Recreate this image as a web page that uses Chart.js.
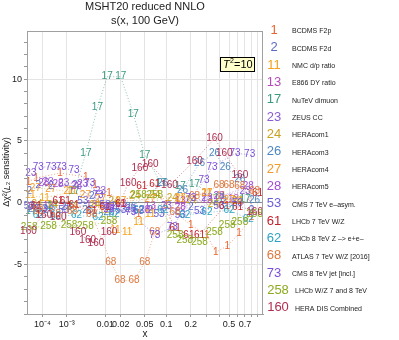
<!DOCTYPE html>
<html>
<head>
<meta charset="utf-8">
<script src="https://cdn.jsdelivr.net/npm/chart.js"></script>
<style>
  body { margin: 0; background: #fff; }
  canvas { display: block; }
</style>
</head>
<body>
<canvas id="myChart" width="399" height="340"></canvas>
<script>
// dataset ids, names and colours (legend order)
var seriesIds = ['1', '2', '11', '13', '17', '23', '24', '26', '27', '28', '53', '61', '62', '68', '73', '258', '160'];
var seriesNames = ['BCDMS F2p', 'BCDMS F2d', 'NMC d/p ratio', 'E866 DY ratio', 'NuTeV dimuon', 'ZEUS CC',
    'HERAcom1', 'HERAcom3', 'HERAcom4', 'HERAcom5', 'CMS 7 TeV e\u2013asym.', 'LHCb 7 TeV W/Z',
    'LHCb 8 TeV Z \u2013> e+e\u2013', 'ATLAS 7 TeV W/Z [2016]', 'CMS 8 TeV jet [incl.]', 'LHCb W/Z 7 and 8 TeV', 'HERA DIS Combined'];
var seriesColors = ['#e8652f', '#5a6cc6', '#f4a11e', '#b14eb8', '#3a9a80', '#8a5bd2', '#c9a21f', '#4d86c0', '#f39a2c',
    '#a24cd2', '#6a5ed6', '#c41f2b', '#2ea2c2', '#de7940', '#7a4fd8', '#8caa1f', '#b02d50'];

// x values and delta chi2 values, one pair per dataset
var x1 = [1.3e-5, 4.4e-5, 5.9e-4, 3.6e-3, 6e-3, 0.012, 0.04, 0.1, 0.2, 0.3, 0.37, 0.48, 0.62, 0.8];
var y1 = [1.7, 2.0, 2.4, 2.1, 1.4, 0.8, -0.9, -0.2, -1.8, -2.6, -4.0, -3.5, -2.5, -1.2];
var x2 = [1.5e-5, 6e-5, 2.6e-4, 1.8e-3, 5e-3, 0.015, 0.06, 0.2, 0.45, 0.8];
var y2 = [0.9, 1.4, 1.3, 1.4, 0.5, -0.3, -0.6, -0.4, 0.1, -0.6];
var x11 = [1.8e-5, 1.3e-4, 1.5e-3, 0.0095, 0.016, 0.026, 0.04, 0.06, 0.15, 0.3, 0.42, 0.6];
var y11 = [0.6, 0.4, 0.9, -0.6, -2.2, -2.4, -1.6, -0.9, 0.3, 0.8, 0.5, 0.1];
var x13 = [2.5e-5, 2e-4, 1e-3, 5e-3, 0.02, 0.06, 0.15, 0.3, 0.55];
var y13 = [-0.4, -0.3, -0.4, -0.2, -0.1, -0.3, 0.1, 0.2, 0.3];
var x17 = [2e-5, 3e-4, 1.7e-3, 3.6e-3, 6.8e-3, 0.011, 0.02, 0.033, 0.05, 0.085, 0.15, 0.22, 0.4, 0.7];
var y17 = [-0.7, -0.3, 0.9, 4.0, 7.7, 10.2, 10.2, 7.2, 3.85, 1.6, 1.3, 1.5, 0.4, 0.3];
var x23 = [2e-5, 1.9e-4, 8e-4, 3e-3, 8e-3, 0.03, 0.1, 0.3, 0.7];
var y23 = [2.4, 1.7, 1.6, 1.5, 0.9, -0.5, -0.3, 0.4, 0.9];
var x24 = [5e-5, 3e-4, 1.5e-3, 6e-3, 0.015, 0.035, 0.07, 0.12, 0.2, 0.35, 0.6];
var y24 = [-0.1, -0.2, -0.3, -0.2, 0.1, 0.5, 0.6, 0.4, 0.2, -0.1, 0.1];
var x26 = [3e-5, 2e-4, 1e-3, 4e-3, 0.012, 0.03, 0.09, 0.16, 0.25, 0.36, 0.46, 0.63, 0.85];
var y26 = [-0.5, -0.6, -0.4, -0.6, -0.8, -0.4, 1.6, 1.0, 3.2, 4.0, 2.9, 1.9, 0.2];
var x27 = [4e-5, 2.5e-4, 1.2e-3, 3.5e-3, 8e-3, 0.02, 0.06, 0.15, 0.3, 0.5];
var y27 = [1.2, 1.1, 0.9, 0.6, 0.3, 0.1, 0.3, 0.4, 0.8, 0.2];
var x28 = [1.2e-4, 5e-4, 2e-3, 0.012, 0.05, 0.15, 0.4, 0.75];
var y28 = [1.6, 1.5, 1.3, -0.5, -0.6, -0.4, 0.5, 1.3];
var x53 = [1.5e-5, 1e-4, 8e-4, 3e-3, 0.01, 0.02, 0.04, 0.08, 0.15, 0.25, 0.4, 0.6];
var y53 = [-0.3, -0.5, -0.6, 0.1, -0.2, -0.6, -0.7, -0.9, -1.0, -0.7, -0.3, 0.0];
var x61 = [4.5e-5, 5e-4, 9e-4, 1.7e-3, 5e-3, 0.01, 0.02, 0.045, 0.07, 0.13, 0.19, 0.25, 0.45, 0.6, 0.9];
var y61 = [-0.3, 0.1, 0.1, -0.2, -0.7, -0.4, -0.1, 1.3, 1.5, -2.1, -2.6, -2.6, -0.3, -0.4, 0.8];
var x62 = [6e-5, 4e-4, 2e-3, 7e-3, 0.015, 0.04, 0.09, 0.17, 0.3, 0.5, 0.75];
var y62 = [-1.0, -1.1, -1.0, -1.2, -0.9, -0.6, -0.6, -1.0, -0.8, -0.6, -1.3];
var x68 = [6e-5, 4e-4, 1.5e-3, 5e-3, 0.013, 0.0195, 0.034, 0.05, 0.07, 0.13, 0.22, 0.4, 0.5, 0.63, 0.85];
var y68 = [-0.7, -0.9, -0.7, -0.9, -4.8, -6.3, -6.3, -4.8, -2.4, -0.8, 0.5, 1.4, 1.4, 1.3, 0.9];
var x73 = [6e-5, 2.6e-4, 6.5e-4, 1.7e-3, 4.5e-3, 7e-3, 0.012, 0.03, 0.07, 0.12, 0.2, 0.28, 0.34, 0.57, 0.77];
var y73 = [2.9, 2.9, 2.85, 2.6, 1.6, 0.6, -0.4, -0.8, -2.6, -2.0, 0.4, 1.8, 2.9, 4.0, 3.9];
var x258 = [1.5e-5, 2e-4, 1.2e-3, 3.5e-3, 0.012, 0.04, 0.07, 0.13, 0.17, 0.25, 0.36, 0.48, 0.63, 0.85];
var y258 = [-2.0, -1.9, -1.8, -1.9, -1.5, 0.6, 0.6, -2.6, -3.0, -3.2, -2.4, -1.8, -1.6, -0.9];
var x160 = [1.3e-5, 1.2e-4, 5e-4, 2.2e-3, 4e-3, 6.3e-3, 0.012, 0.027, 0.042, 0.06, 0.11, 0.22, 0.36, 0.45, 0.63, 0.85];
var y160 = [-2.3, -1.0, -1.2, -2.4, -3.0, -3.3, -2.4, 1.6, 2.8, 3.1, 1.4, 3.4, 5.2, 4.0, 2.2, -0.8];

var seriesX = [x1, x2, x11, x13, x17, x23, x24, x26, x27, x28, x53, x61, x62, x68, x73, x258, x160];
var seriesY = [y1, y2, y11, y13, y17, y23, y24, y26, y27, y28, y53, y61, y62, y68, y73, y258, y160];

// axis ticks
var xTicks = [1e-4, 1e-3, 0.01, 0.02, 0.05, 0.1, 0.2, 0.3, 0.4, 0.5, 0.6, 0.7, 0.8, 0.9];
var xTickLabels = ['10\u207B\u2074', '10\u207B\u00B3', '0.01', '0.02', '0.05', '0.1', '0.2', '', '', '0.5', '', '0.7', '', ''];
var yTicks = [-9, -8, -7, -6, -5, -4, -3, -2, -1, 0, 1, 2, 3, 4, 5, 6, 7, 8, 9, 10, 11, 12, 13];

var FONT = "'Liberation Sans', Arial, sans-serif";
Chart.defaults.font.family = FONT;

// x axis goes like x^0.2
var POW = 0.2;
class PowerScale extends Chart.LinearScale {
    getPixelForValue(v) {
        if (v === null || v === undefined) return NaN;
        var a = Math.pow(this.min, POW), b = Math.pow(this.max, POW);
        return this.getPixelForDecimal((Math.pow(v, POW) - a) / (b - a));
    }
    getValueForPixel(px) {
        var a = Math.pow(this.min, POW), b = Math.pow(this.max, POW);
        return Math.pow(a + this.getDecimalForPixel(px) * (b - a), 1 / POW);
    }
}
PowerScale.id = 'power';
PowerScale.defaults = Chart.LinearScale.defaults;
Chart.register(PowerScale);

var datasets = seriesIds.map(function (id, i) {
    return {
        label: id,
        data: seriesX[i].map(function (x, j) { return { x: x, y: seriesY[i][j] }; }),
        showLine: true,
        borderColor: seriesColors[i] + 'bb',
        borderWidth: 0.8,
        borderDash: [1, 2],
        pointRadius: 0,
        pointHoverRadius: 0,
        fill: false
    };
});

var decor = {
    id: 'decor',
    afterDatasetsDraw: function (chart) {
        var ctx = chart.ctx;
        ctx.save();
        // numbers as markers
        ctx.font = '10px ' + FONT;
        ctx.textAlign = 'center';
        ctx.textBaseline = 'middle';
        chart.data.datasets.forEach(function (ds, i) {
            var meta = chart.getDatasetMeta(i);
            ctx.fillStyle = seriesColors[i];
            meta.data.forEach(function (el) {
                ctx.fillText(seriesIds[i], el.x, el.y);
            });
        });
        ctx.restore();
    },
    afterDraw: function (chart) {
        var ctx = chart.ctx, a = chart.chartArea;
        ctx.save();
        // frame
        ctx.strokeStyle = '#a0a0a0';
        ctx.lineWidth = 1;
        ctx.strokeRect(a.left + 0.5, a.top + 0.5, a.right - a.left - 1, a.bottom - a.top);
        // titles
        var cx = (a.left + a.right) / 2;
        ctx.fillStyle = '#222';
        ctx.textAlign = 'center';
        ctx.textBaseline = 'middle';
        ctx.font = '11px ' + FONT;
        ctx.fillText('MSHT20 reduced NNLO', cx, 7);
        ctx.fillText('s(x, 100 GeV)', cx, 21);
        ctx.font = '10px ' + FONT;
        ctx.fillText('x', cx, 334);
        // y title, with italic L
        ctx.translate(7, 172);
        ctx.rotate(-Math.PI / 2);
        var parts = [['\u0394\u03C7\u00B2(', ''], ['L', 'italic '], ['\u2082 sensitivity)', '']];
        var w = 0;
        parts.forEach(function (p) { ctx.font = p[1] + '9px ' + FONT; w += ctx.measureText(p[0]).width; });
        var px = -w / 2;
        ctx.textAlign = 'left';
        parts.forEach(function (p) {
            ctx.font = p[1] + '9px ' + FONT;
            ctx.fillText(p[0], px, 0);
            px += ctx.measureText(p[0]).width;
        });
        ctx.setTransform(1, 0, 0, 1, 0, 0);
        // T^2 box
        ctx.fillStyle = '#ffffcc';
        ctx.fillRect(220, 57, 34, 14);
        ctx.strokeStyle = '#000';
        ctx.strokeRect(220.5, 57.5, 34, 14);
        ctx.fillStyle = '#000';
        ctx.textBaseline = 'alphabetic';
        ctx.font = 'italic 11px ' + FONT;
        ctx.fillText('T', 223, 68);
        ctx.font = '7px ' + FONT;
        ctx.fillText('2', 230, 63);
        ctx.font = '11px ' + FONT;
        ctx.fillText('=10', 234, 68);
        // legend
        ctx.textBaseline = 'middle';
        seriesIds.forEach(function (id, i) {
            var y = 30.3 + i * 17.35;
            var long = id.length > 2;
            ctx.font = '13px ' + FONT;
            ctx.textAlign = 'center';
            ctx.fillStyle = seriesColors[i];
            ctx.fillText(id, long ? 278 : 274, y);
            ctx.font = '7px ' + FONT;
            ctx.textAlign = 'left';
            ctx.fillStyle = '#222';
            ctx.fillText(seriesNames[i], long ? 295 : 292, y + 1);
        });
        ctx.restore();
    }
};

var ctx = document.getElementById('myChart').getContext('2d');
var chart = new Chart(ctx, {
    type: 'scatter',
    data: { datasets: datasets },
    options: {
        responsive: false,
        animation: false,
        layout: { padding: { top: 31, right: 136, left: 0, bottom: 0 } },
        plugins: { legend: { display: false }, tooltip: { enabled: false } },
        scales: {
            x: {
                type: 'power',
                min: 1e-5,
                max: 1,
                afterBuildTicks: function (s) { s.ticks = xTicks.map(function (v) { return { value: v }; }); },
                afterFit: function (s) { s.height = 26; },
                ticks: {
                    autoSkip: false,
                    maxRotation: 0,
                    padding: 2,
                    color: '#222',
                    font: { size: 9 },
                    callback: function (v, i) { return xTickLabels[i]; }
                },
                grid: { color: '#e4e4e4', tickLength: 3, tickColor: '#999' },
                border: { color: '#a0a0a0' }
            },
            y: {
                min: -9,
                max: 13.9,
                afterBuildTicks: function (s) { s.ticks = yTicks.map(function (v) { return { value: v }; }); },
                afterFit: function (s) { s.width = 27; },
                ticks: {
                    autoSkip: false,
                    padding: 2,
                    color: '#222',
                    font: { size: 9 },
                    callback: function (v) { return v % 5 === 0 ? String(v) : ''; }
                },
                grid: {
                    color: function (c) {
                        if (!c.tick) return 'rgba(0,0,0,0)';
                        if (c.tick.value === 0) return '#8a8a8a';
                        return c.tick.value % 5 === 0 ? '#e4e4e4' : 'rgba(0,0,0,0)';
                    },
                    tickLength: 3,
                    tickColor: '#999'
                },
                border: { color: '#a0a0a0' }
            }
        }
    },
    plugins: [decor]
});
</script>
</body>
</html>
